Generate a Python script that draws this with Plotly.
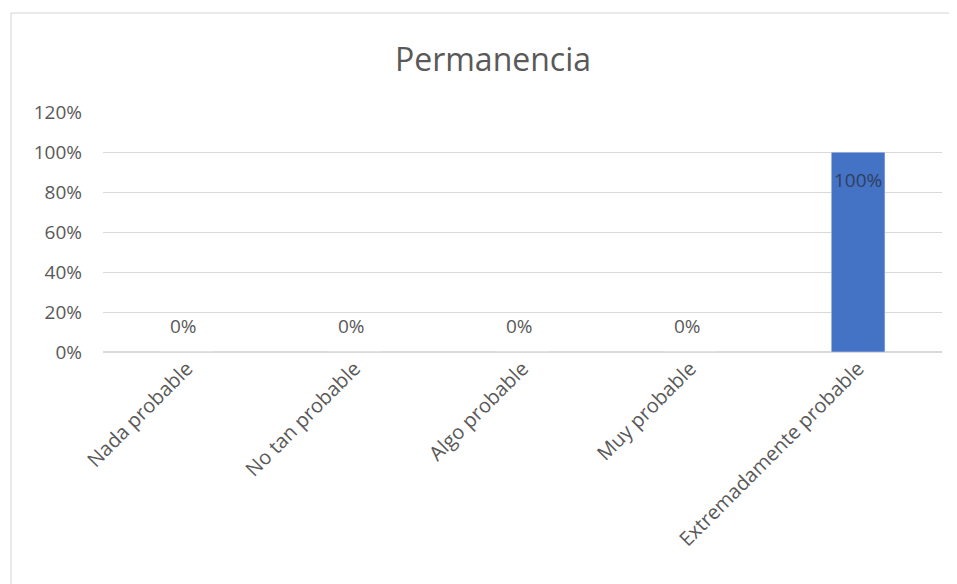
import plotly.graph_objects as go

categories = ["Nada probable", "No tan probable", "Algo probable", "Muy probable", "Extremadamente probable"]
values = [0, 0, 0, 0, 1.0]
labels = ["0%", "0%", "0%", "0%", "100%"]
tick_vals = [0, 0.2, 0.4, 0.6, 0.8, 1.0, 1.2]
tick_text = ["0%", "20%", "40%", "60%", "80%", "100%", "120%"]

font_family = "Open Sans, Liberation Sans, sans-serif"
grey = "#595959"

W, H = 949, 576
L, R, T, B = 95, 15, 104, 232
PW, PH = W - L - R, H - T - B

fig = go.Figure(go.Bar(
    x=categories, y=values, marker_color="#4472C4", width=0.32, hoverinfo="x+y",
))

annotations = []
for c, v, t in zip(categories, values, labels):
    inside = v > 0
    annotations.append(dict(
        x=c, y=v, xref="x", yref="y", text=t, showarrow=False,
        yanchor="middle", yshift=-28 if inside else 26, xshift=-3 if not inside else 0,
        font=dict(family=font_family, size=19, color="#2f3f60" if inside else grey),
    ))

fig.update_layout(
    width=W, height=H,
    margin=dict(l=L, r=R, t=T, b=B),
    paper_bgcolor="white", plot_bgcolor="white",
    title=dict(text="Permanencia", x=485 / W, xanchor="center", y=1 - 52 / H, yanchor="middle",
               font=dict(family=font_family, size=32, color=grey)),
    showlegend=False,
    annotations=annotations,
    xaxis=dict(tickangle=-45, tickfont=dict(family=font_family, size=20, color=grey),
               showgrid=False, showline=False, ticks=""),
    yaxis=dict(range=[0, 1.201], tickvals=tick_vals, ticktext=tick_text,
               tickfont=dict(family=font_family, size=19, color=grey),
               showgrid=True, gridcolor="#d9d9d9", gridwidth=1,
               zeroline=True, zerolinecolor="#d9d9d9", showline=False, ticks="", ticklabelstandoff=20),
    shapes=[
        dict(type="line", xref="paper", yref="paper", x0=(3 - L) / PW, x1=(W - L) / PW,
             y0=1 + (T - 5) / PH, y1=1 + (T - 5) / PH, line=dict(color="#d4d4d4", width=1)),
        dict(type="line", xref="paper", yref="paper", x0=(3 - L) / PW, x1=(3 - L) / PW,
             y0=1 + (T - 5) / PH, y1=-(B + 5) / PH, line=dict(color="#d4d4d4", width=1)),
    ],
)

fig.write_html("out.html")
